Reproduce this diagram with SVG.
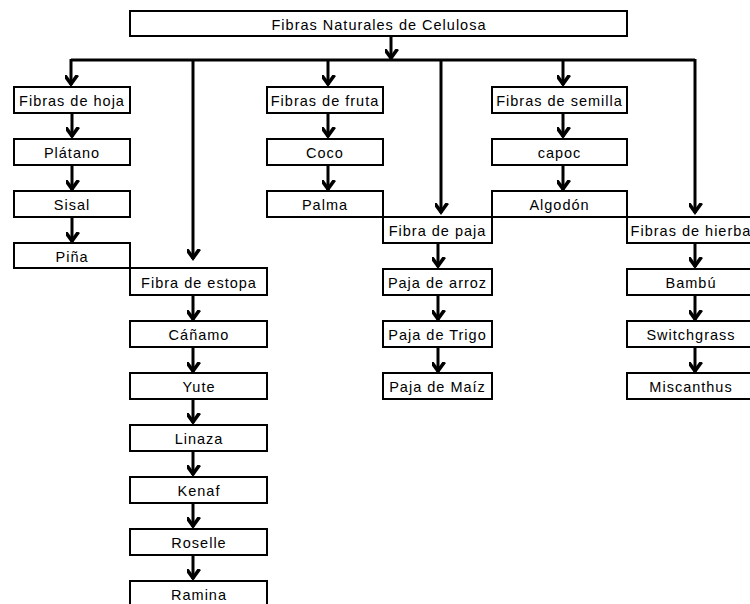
<svg xmlns="http://www.w3.org/2000/svg" width="750" height="604" viewBox="0 0 750 604">
<defs>
<marker id="ah" markerUnits="userSpaceOnUse" markerWidth="20" markerHeight="20" viewBox="-10 -14 20 20" refX="0" refY="0" orient="auto-start-reverse">
<path d="M-6.5,-10 L0,-1 L6.5,-10" transform="rotate(-90)" fill="none" stroke="#000" stroke-width="3.6"/>
</marker>
</defs>
<style>
rect{fill:#fff;stroke:#000;stroke-width:2}
text{font-family:"Liberation Sans",Arial,sans-serif;font-size:14.5px;letter-spacing:1px;text-anchor:middle;fill:#000}
.c line,.c path{stroke:#000;stroke-width:3;fill:none}
.c line{marker-end:url(#ah)}
</style>
<rect x="0" y="0" width="750" height="604" style="stroke:none;fill:#fff"/>
<g class="c" id="connectors">
<line x1="391" y1="36" x2="391" y2="59"/>
<path d="M71,60 L695,60"/>
<line x1="71" y1="59" x2="71" y2="85"/>
<line x1="328" y1="60" x2="328" y2="85"/>
<line x1="563" y1="60" x2="563" y2="85"/>
<line x1="193" y1="60" x2="193" y2="259"/>
<line x1="441" y1="60" x2="441" y2="213"/>
<line x1="695" y1="59" x2="695" y2="213"/>
<line x1="72" y1="113" x2="72" y2="137"/>
<line x1="72" y1="165" x2="72" y2="190"/>
<line x1="72" y1="218" x2="72" y2="242"/>
<line x1="328" y1="113" x2="328" y2="137"/>
<line x1="328" y1="165" x2="328" y2="190"/>
<line x1="563" y1="114" x2="563" y2="137"/>
<line x1="563" y1="165" x2="563" y2="190"/>
<line x1="193" y1="296" x2="193" y2="320"/>
<line x1="193" y1="348" x2="193" y2="372"/>
<line x1="193" y1="400" x2="193" y2="423"/>
<line x1="193" y1="452" x2="193" y2="475"/>
<line x1="193" y1="503" x2="193" y2="527"/>
<line x1="193" y1="556" x2="193" y2="579"/>
<line x1="438" y1="244" x2="438" y2="267"/>
<line x1="438" y1="296" x2="438" y2="320"/>
<line x1="438" y1="348" x2="438" y2="372"/>
<line x1="695" y1="244" x2="695" y2="267"/>
<line x1="695" y1="296" x2="695" y2="320"/>
<line x1="695" y1="348" x2="695" y2="372"/>
</g>
<g id="root"><rect x="130" y="11" width="497" height="25"/><text x="379" y="29.5">Fibras Naturales de Celulosa</text></g>
<g id="hoja"><rect x="14" y="87" width="116" height="26"/><text x="72" y="106">Fibras de hoja</text></g>
<g id="platano"><rect x="14" y="139" width="116" height="26"/><text x="72" y="158">Plátano</text></g>
<g id="sisal"><rect x="14" y="191" width="116" height="26"/><text x="72" y="210">Sisal</text></g>
<g id="pina"><rect x="14" y="243" width="116" height="25"/><text x="72" y="262">Piña</text></g>
<g id="estopa"><rect x="130" y="268" width="137" height="27"/><text x="199" y="288">Fibra de estopa</text></g>
<g id="canamo"><rect x="130" y="321" width="137" height="26"/><text x="199" y="340">Cáñamo</text></g>
<g id="yute"><rect x="130" y="373" width="137" height="26"/><text x="199" y="392">Yute</text></g>
<g id="linaza"><rect x="130" y="425" width="137" height="26"/><text x="199" y="444">Linaza</text></g>
<g id="kenaf"><rect x="130" y="477" width="137" height="26"/><text x="199" y="496">Kenaf</text></g>
<g id="roselle"><rect x="130" y="529" width="137" height="26"/><text x="199" y="548">Roselle</text></g>
<g id="ramina"><rect x="130" y="581" width="137" height="30"/><text x="199" y="600">Ramina</text></g>
<g id="fruta"><rect x="267" y="87" width="116" height="26"/><text x="325" y="106">Fibras de fruta</text></g>
<g id="coco"><rect x="267" y="139" width="116" height="26"/><text x="325" y="158">Coco</text></g>
<g id="palma"><rect x="267" y="191" width="116" height="26"/><text x="325" y="210">Palma</text></g>
<g id="paja"><rect x="383" y="217" width="109" height="26"/><text x="437.5" y="236">Fibra de paja</text></g>
<g id="arroz"><rect x="383" y="269" width="109" height="26"/><text x="437.5" y="288">Paja de arroz</text></g>
<g id="trigo"><rect x="383" y="321" width="109" height="26"/><text x="437.5" y="340">Paja de Trigo</text></g>
<g id="maiz"><rect x="383" y="373" width="109" height="26"/><text x="437.5" y="392">Paja de Maíz</text></g>
<g id="semilla"><rect x="492" y="87" width="135" height="26"/><text x="559.5" y="106">Fibras de semilla</text></g>
<g id="capoc"><rect x="492" y="139" width="135" height="26"/><text x="559.5" y="158">capoc</text></g>
<g id="algodon"><rect x="492" y="191" width="135" height="26"/><text x="559.5" y="210">Algodón</text></g>
<g id="hierba"><rect x="627" y="217" width="128" height="26"/><text x="691" y="236">Fibras de hierba</text></g>
<g id="bambu"><rect x="627" y="269" width="128" height="26"/><text x="691" y="288">Bambú</text></g>
<g id="switchgrass"><rect x="627" y="321" width="128" height="26"/><text x="691" y="340">Switchgrass</text></g>
<g id="miscanthus"><rect x="627" y="373" width="128" height="26"/><text x="691" y="392">Miscanthus</text></g>
</svg>
